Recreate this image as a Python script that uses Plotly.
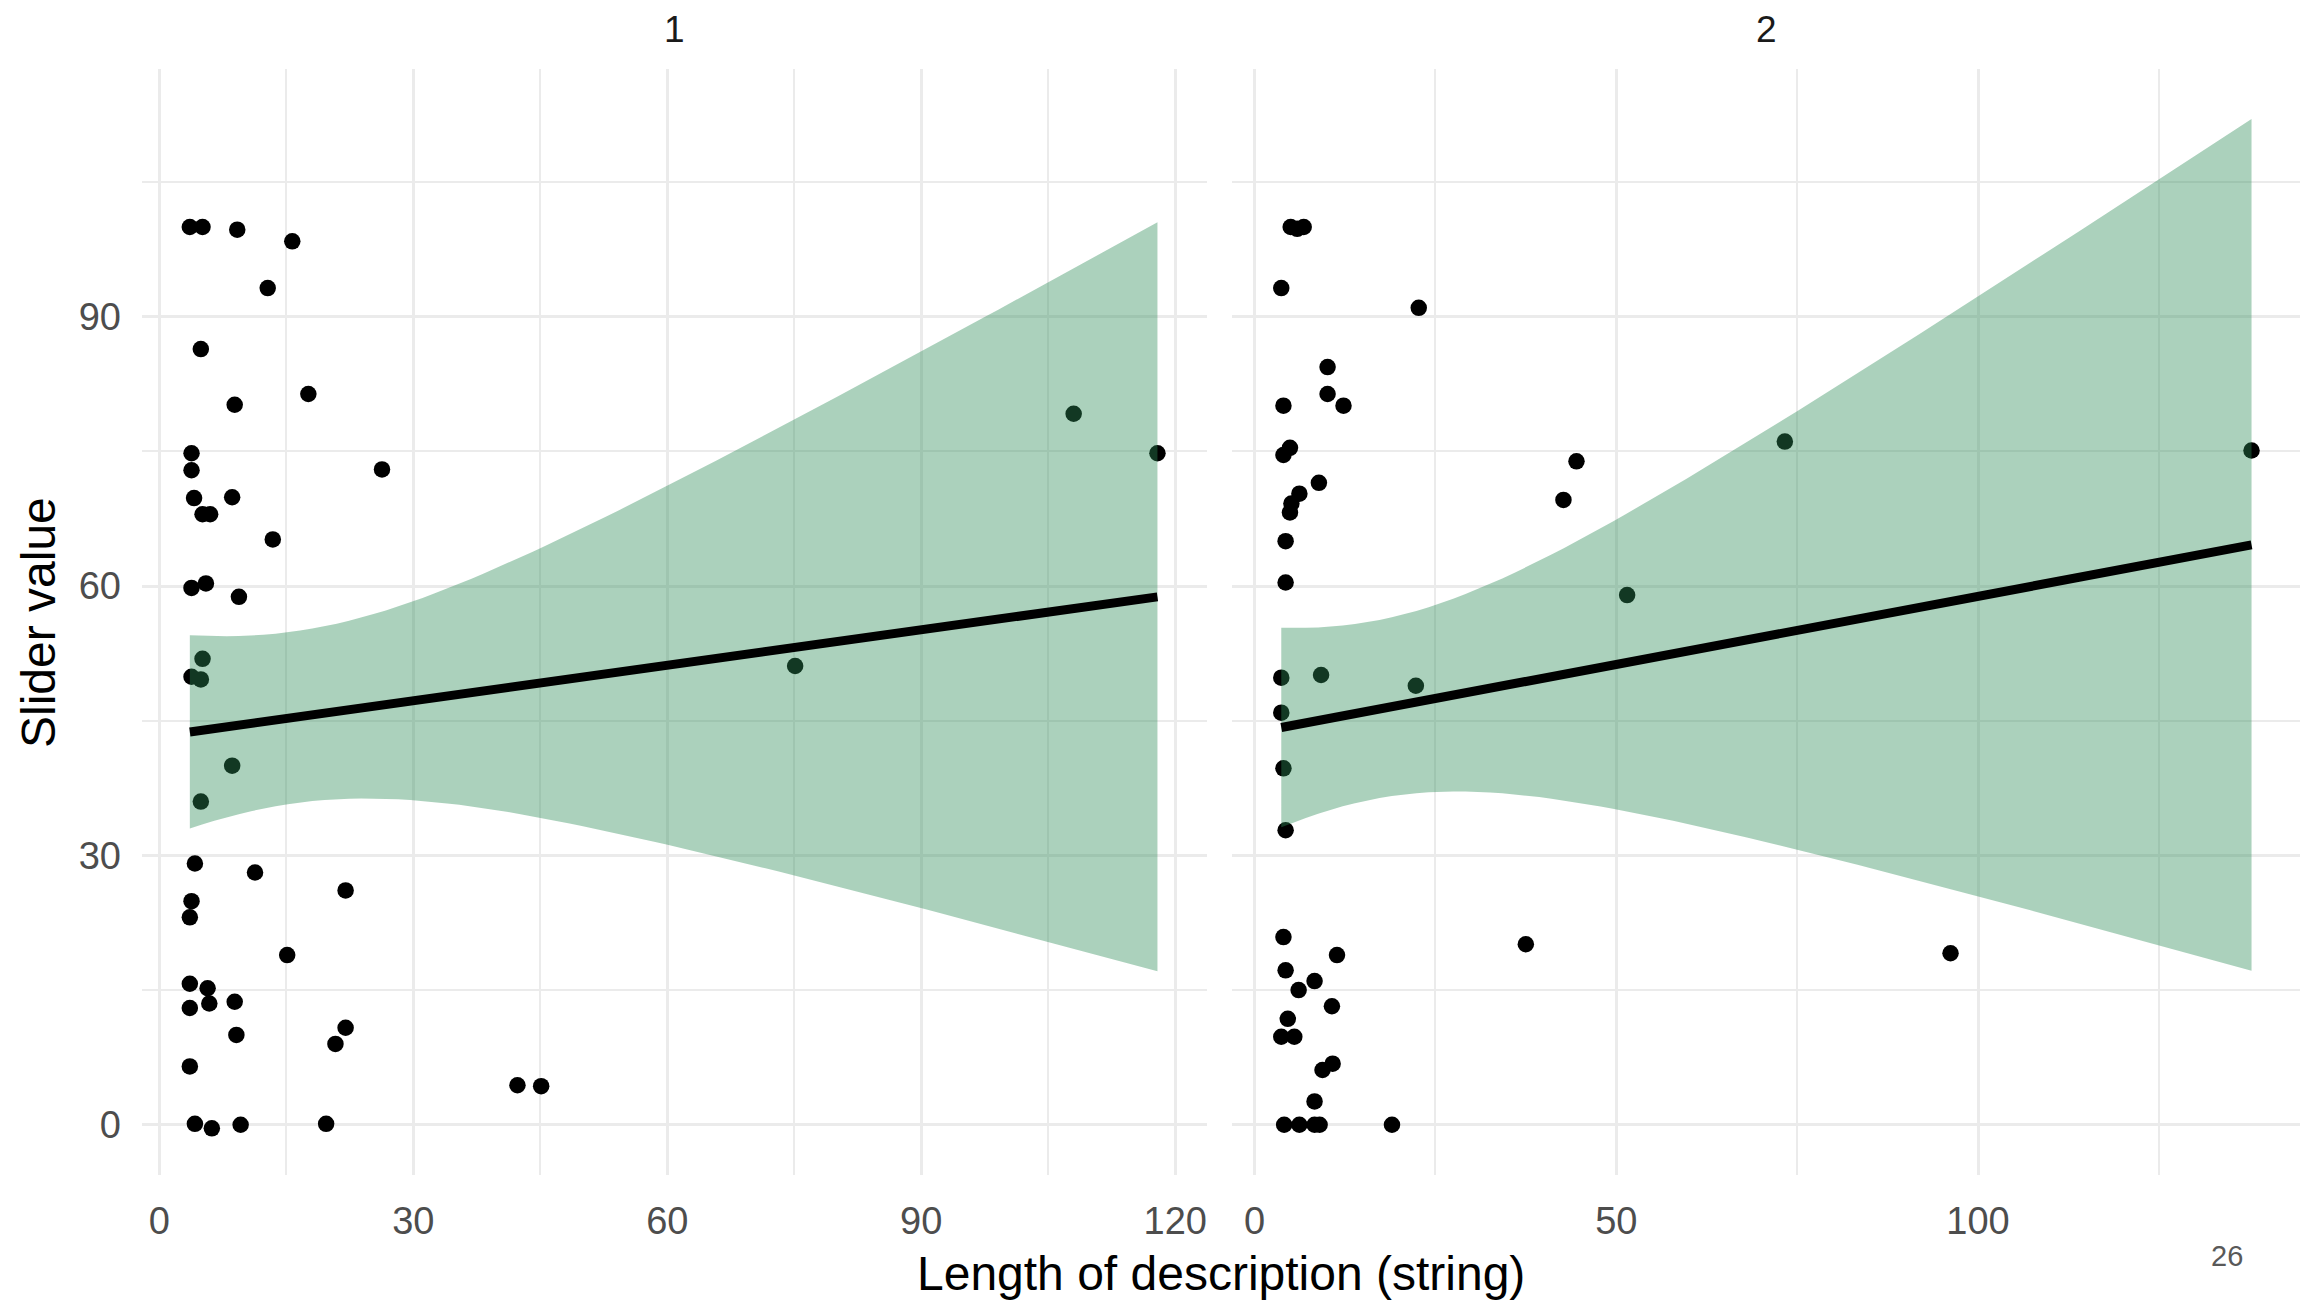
import numpy as np
import plotly.graph_objects as go

# ---------------- data ----------------
left_x = [3.6, 5.1, 9.2, 15.7, 12.8, 4.9, 17.6, 8.9, 3.8, 3.8, 26.3, 4.1, 8.6, 5.1, 6.0,
          13.4, 3.8, 5.5, 9.4, 5.1, 3.8, 4.9, 8.6, 4.9, 4.2, 11.3, 22.0, 3.8, 3.6, 15.1,
          3.6, 5.7, 3.6, 5.9, 8.9, 9.1, 22.0, 20.8, 3.6, 4.2, 6.2, 9.6, 19.7,
          42.3, 45.1, 75.1, 108.0, 117.9]
left_y = [100.0, 100.0, 99.7, 98.4, 93.2, 86.4, 81.4, 80.2, 74.8, 72.9, 73.0, 69.8, 69.9, 68.0, 68.0,
          65.2, 59.8, 60.3, 58.8, 51.9, 49.9, 49.6, 40.0, 36.0, 29.1, 28.1, 26.1, 24.9, 23.1, 18.9,
          15.7, 15.2, 13.0, 13.5, 13.7, 10.0, 10.8, 9.0, 6.5, 0.1, -0.4, 0.0, 0.1,
          4.4, 4.3, 51.1, 79.2, 74.8]

right_x = [5.0, 5.9, 6.8, 3.7, 22.7, 10.1, 10.1, 12.3, 4.0, 4.9, 4.0, 8.9, 6.2, 5.1, 4.9,
           4.3, 4.3, 3.7, 9.2, 22.3, 3.7, 4.0, 4.3, 4.0, 11.4, 4.3, 8.3, 6.1, 10.7, 4.6,
           3.7, 5.5, 10.8, 9.4, 8.3, 4.1, 6.2, 8.3, 9.0, 19.0,
           44.5, 42.7, 73.3, 137.8, 51.5, 37.5, 96.2]
right_y = [100.0, 99.8, 100.0, 93.2, 91.0, 84.4, 81.4, 80.1, 80.1, 75.4, 74.6, 71.5, 70.3, 69.2, 68.2,
           65.0, 60.4, 49.8, 50.1, 48.9, 45.9, 39.7, 32.8, 20.9, 18.9, 17.2, 16.0, 15.0, 13.2, 11.8,
           9.8, 9.8, 6.8, 6.1, 2.6, 0.0, 0.0, 0.0, 0.0, 0.0,
           73.9, 69.6, 76.1, 75.1, 59.0, 20.1, 19.1]

panel_titles = ["1", "2"]
left_xticks = [0, 30, 60, 90, 120]
left_xminor = [15, 45, 75, 105]
right_xticks = [0, 50, 100]
right_xminor = [25, 75, 125]
y_ticks = [0, 30, 60, 90]
y_minor = [15, 45, 75, 105]
x_title = "Length of description (string)"
y_title = "Slider value"
page_number = "26"

# ---------------- linear fit with 95% confidence band (like geom_smooth(method="lm")) --------
def t_quantile_975(dfree):
    z = 1.959963985
    g1 = (z**3 + z) / 4
    g2 = (5 * z**5 + 16 * z**3 + 3 * z) / 96
    g3 = (3 * z**7 + 19 * z**5 + 17 * z**3 - 15 * z) / 384
    g4 = (79 * z**9 + 776 * z**7 + 1482 * z**5 - 1920 * z**3 - 945 * z) / 92160
    return z + g1 / dfree + g2 / dfree**2 + g3 / dfree**3 + g4 / dfree**4


def lm_band(x, y, n=80):
    x = np.asarray(x, float)
    y = np.asarray(y, float)
    b, a = np.polyfit(x, y, 1)
    resid = y - (a + b * x)
    dfree = len(x) - 2
    s = np.sqrt((resid ** 2).sum() / dfree)
    xbar = x.mean()
    sxx = ((x - xbar) ** 2).sum()
    xs = np.linspace(x.min(), x.max(), n)
    fit = a + b * xs
    se = s * np.sqrt(1.0 / len(x) + (xs - xbar) ** 2 / sxx)
    t = t_quantile_975(dfree)
    return xs, fit, fit - t * se, fit + t * se


FONT = "Liberation Sans, Arial, sans-serif"
GRID = "#EBEBEB"
RIBBON = "rgba(46,139,87,0.4)"

fig = go.Figure()
panels = [(left_x, left_y, "x", "y"), (right_x, right_y, "x2", "y2")]
for px, py, xa, ya in panels:
    fig.add_trace(go.Scatter(x=px, y=py, mode="markers", xaxis=xa, yaxis=ya,
                             marker=dict(color="black", size=16.5, line=dict(width=0)),
                             hoverinfo="skip"))
    xs, fit, lo, hi = lm_band(px, py)
    fig.add_trace(go.Scatter(x=np.concatenate([xs, xs[::-1]]),
                             y=np.concatenate([hi, lo[::-1]]),
                             mode="lines", fill="toself", fillcolor=RIBBON,
                             line=dict(width=0, color="rgba(0,0,0,0)"),
                             xaxis=xa, yaxis=ya, hoverinfo="skip"))
    fig.add_trace(go.Scatter(x=xs, y=fit, mode="lines", xaxis=xa, yaxis=ya,
                             line=dict(color="black", width=9), hoverinfo="skip"))

tickfont = dict(family=FONT, size=38, color="#4D4D4D")
common_x = dict(showgrid=True, gridcolor=GRID, gridwidth=2.7, zeroline=False, showline=False,
                ticks="", tickfont=tickfont, tickmode="array", ticklabelstandoff=20)

fig.update_layout(
    width=2307, height=1296,
    margin=dict(l=133.5, r=14.5, t=61, b=129),
    plot_bgcolor="white", paper_bgcolor="white",
    showlegend=False,
    xaxis=dict(domain=[0, 0.4937], range=[-2.05, 123.8],
               tickvals=left_xticks, ticktext=[str(v) for v in left_xticks],
               minor=dict(tickvals=left_xminor, showgrid=True, gridcolor=GRID, gridwidth=1.5),
               anchor="y", **common_x),
    xaxis2=dict(domain=[0.5053, 1], range=[-3.05, 144.5],
                tickvals=right_xticks, ticktext=[str(v) for v in right_xticks],
                minor=dict(tickvals=right_xminor, showgrid=True, gridcolor=GRID, gridwidth=1.5),
                anchor="y2", **common_x),
    yaxis=dict(domain=[0, 1], range=[-5.6, 117.6], tickmode="array",
               tickvals=y_ticks, ticktext=[str(v) for v in y_ticks],
               minor=dict(tickvals=y_minor, showgrid=True, gridcolor=GRID, gridwidth=1.5),
               showgrid=True, gridcolor=GRID, gridwidth=2.7, zeroline=False, showline=False,
               ticks="", tickfont=tickfont, ticklabelstandoff=20, anchor="x"),
    yaxis2=dict(domain=[0, 1], range=[-5.6, 117.6], matches="y", tickmode="array",
                tickvals=y_ticks,
                minor=dict(tickvals=y_minor, showgrid=True, gridcolor=GRID, gridwidth=1.5),
                showgrid=True, gridcolor=GRID, gridwidth=2.7, zeroline=False, showline=False,
                ticks="", showticklabels=False, anchor="x2"),
)

annotations = [
    dict(text=panel_titles[0], x=0.4937 / 2, y=1.0355, xref="paper", yref="paper",
         showarrow=False, xanchor="center", yanchor="middle", borderpad=0,
         font=dict(family=FONT, size=37, color="#1A1A1A")),
    dict(text=panel_titles[1], x=(0.5053 + 1) / 2, y=1.0355, xref="paper", yref="paper",
         showarrow=False, xanchor="center", yanchor="middle", borderpad=0,
         font=dict(family=FONT, size=37, color="#1A1A1A")),
    dict(text=x_title, x=0.5, y=-0.0887, xref="paper", yref="paper",
         showarrow=False, xanchor="center", yanchor="middle",
         font=dict(family=FONT, size=48, color="black")),
    dict(text=y_title, x=-0.0482, y=0.5, xref="paper", yref="paper", textangle=-90,
         showarrow=False, xanchor="center", yanchor="middle",
         font=dict(family=FONT, size=48, color="black")),
    dict(text=page_number, x=0.966, y=-0.0732, xref="paper", yref="paper",
         showarrow=False, xanchor="center", yanchor="middle",
         font=dict(family=FONT, size=29, color="#595959")),
]
fig.update_layout(annotations=annotations)

fig.write_html("out.html")
